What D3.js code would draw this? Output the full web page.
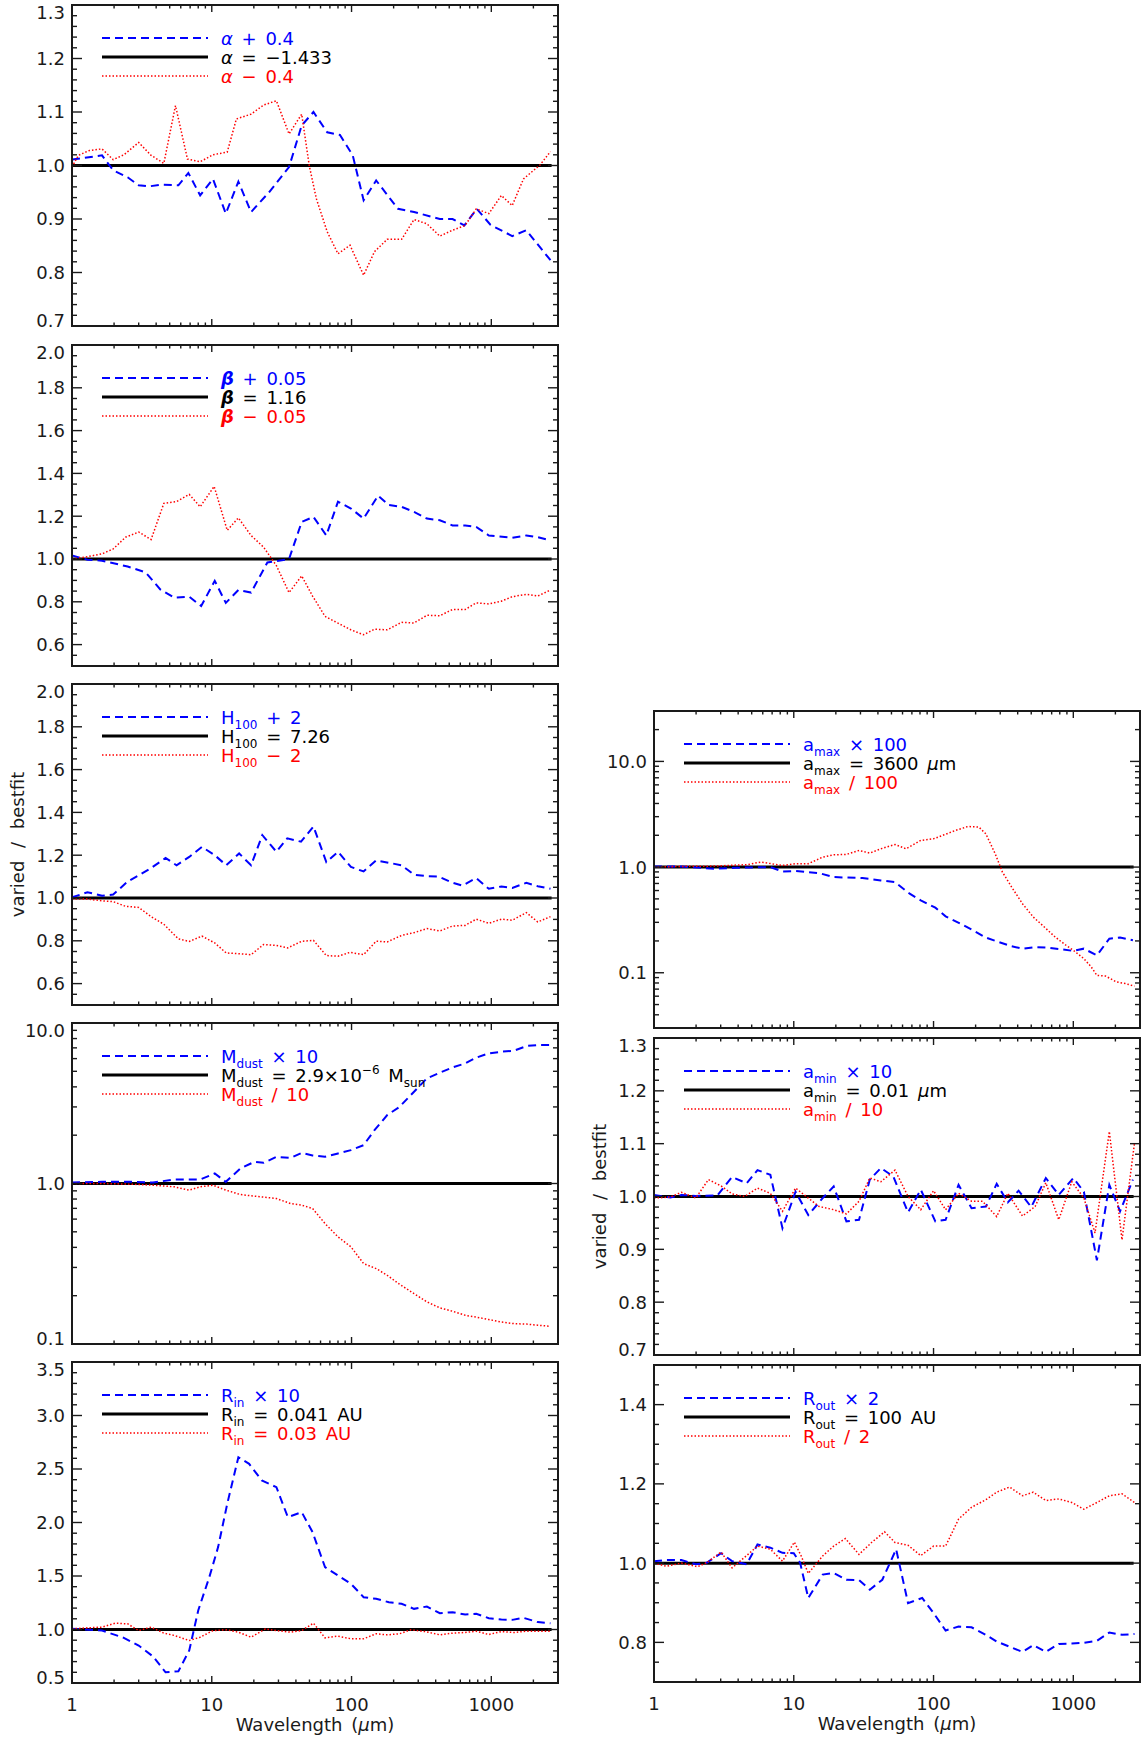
<!DOCTYPE html>
<html><head><meta charset="utf-8">
<script src="https://cdn.jsdelivr.net/npm/d3@7"></script>
<style>
body{margin:0;background:#fff}
text{font-family:"DejaVu Sans",sans-serif;white-space:pre;word-spacing:3px}
</style>
</head><body>
<svg id="chart" width="1142" height="1740"></svg>
<script>
// ---------------- DATA ----------------
const xTickValues = [1, 10, 100, 1000];
const xTickLabels = ["1", "10", "100", "1000"];
const xTitle = "Wavelength (μm)";
const yTitle = "varied / bestfit";
const bestfit = [[1, 1], [2700, 1]];

// panel alpha
const alphaTicks = [0.7, 0.8, 0.9, 1.0, 1.1, 1.2, 1.3];
const alphaPlus = [[1,1.011],[1.64,1.019],[1.97,0.991],[2.5,0.978],[3.0,0.963],[3.57,0.961],[4.28,0.964],[5.77,0.963],[6.8,0.986],[8.26,0.944],[10.2,0.975],[12.6,0.91],[15.5,0.97],[19.1,0.913],[25.7,0.95],[35.7,0.997],[44,1.075],[53.4,1.10],[67,1.062],[82.6,1.057],[102,1.019],[122,0.935],[150,0.972],[215,0.919],[280,0.913],[428,0.90],[528,0.90],[642,0.888],[787,0.919],[988,0.889],[1413,0.868],[1780,0.879],[2650,0.823]];
const alphaMinus = [[1,0.997],[1.11,1.019],[1.33,1.028],[1.64,1.031],[1.97,1.011],[2.35,1.02],[3.0,1.043],[3.68,1.019],[4.54,1.004],[5.5,1.112],[6.7,1.012],[8.26,1.007],[10.2,1.02],[12.9,1.025],[15,1.087],[19.1,1.096],[23.5,1.113],[29,1.121],[35.7,1.059],[44,1.096],[49.8,1.0],[56,0.938],[67,0.876],[80,0.835],[97.5,0.851],[122,0.795],[146,0.839],[180,0.862],[228,0.862],[280,0.899],[346,0.891],[428,0.868],[528,0.879],[650,0.888],[780,0.919],[960,0.91],[1180,0.944],[1410,0.925],[1700,0.975],[2230,1.001],[2650,1.026]];
const alphaLegend = [
  [{t:"α",i:1},{t:" + 0.4"}],
  [{t:"α",i:1},{t:" = −1.433"}],
  [{t:"α",i:1},{t:" − 0.4"}]
];

// panel beta
const betaTicks = [0.6, 0.8, 1.0, 1.2, 1.4, 1.6, 1.8, 2.0];
const betaPlus = [[1,1.016],[1.29,0.997],[1.64,0.992],[2.5,0.965],[3.37,0.937],[4.28,0.858],[5.4,0.819],[6.9,0.824],[8.4,0.78],[10.5,0.898],[12.6,0.795],[15.5,0.855],[19.1,0.843],[25,0.984],[28.5,0.989],[35.7,1.0],[44,1.173],[53.4,1.197],[66,1.11],[80,1.268],[99,1.236],[122,1.189],[155,1.296],[185,1.252],[228,1.244],[280,1.22],[346,1.189],[428,1.181],[528,1.157],[650,1.157],[780,1.15],[960,1.11],[1413,1.099],[1780,1.11],[2150,1.102],[2650,1.087]];
const betaMinus = [[1,1.0],[1.29,1.011],[1.64,1.024],[1.97,1.047],[2.42,1.102],[3.0,1.126],[3.68,1.091],[4.54,1.26],[5.6,1.268],[6.9,1.302],[8.26,1.244],[10.4,1.339],[12.9,1.134],[15.5,1.192],[19.1,1.11],[23.5,1.055],[29,0.969],[35.7,0.843],[44,0.921],[52.6,0.827],[64.6,0.732],[80,0.7],[99,0.669],[122,0.646],[146,0.672],[180,0.669],[228,0.704],[280,0.701],[346,0.737],[428,0.735],[528,0.764],[650,0.764],[780,0.795],[960,0.79],[1180,0.803],[1413,0.824],[1780,0.835],[2150,0.827],[2650,0.855]];
const betaLegend = [
  [{t:"β",i:1,b:1},{t:" + 0.05"}],
  [{t:"β",i:1,b:1},{t:" = 1.16"}],
  [{t:"β",i:1,b:1},{t:" − 0.05"}]
];

// panel H100
const hTicks = [0.6, 0.8, 1.0, 1.2, 1.4, 1.6, 1.8, 2.0];
const hPlus = [[1,1.003],[1.29,1.027],[1.64,1.011],[1.97,1.016],[2.5,1.077],[3.0,1.106],[3.68,1.14],[4.67,1.187],[5.6,1.153],[6.9,1.192],[8.5,1.239],[10.5,1.2],[12.7,1.153],[15.7,1.208],[19.1,1.153],[23,1.294],[29,1.216],[34.7,1.279],[43.5,1.263],[53.4,1.334],[66,1.168],[80,1.216],[99,1.145],[122,1.124],[150,1.176],[228,1.153],[280,1.109],[346,1.102],[420,1.10],[515,1.074],[620,1.058],[780,1.093],[960,1.043],[1180,1.054],[1413,1.047],[1780,1.071],[2150,1.055],[2650,1.043]];
const hMinus = [[1,0.995],[1.29,0.995],[1.64,0.987],[1.97,0.983],[2.42,0.961],[3.0,0.956],[3.68,0.913],[4.54,0.877],[5.77,0.809],[6.9,0.797],[8.5,0.822],[10.5,0.79],[12.7,0.743],[15.5,0.74],[19.1,0.735],[23.5,0.783],[29,0.778],[35,0.767],[44,0.798],[53.4,0.802],[66,0.731],[80,0.728],[97.5,0.746],[122,0.735],[150,0.798],[180,0.795],[228,0.825],[280,0.838],[346,0.857],[428,0.846],[528,0.869],[650,0.872],[780,0.901],[960,0.882],[1180,0.901],[1413,0.896],[1780,0.932],[2150,0.888],[2650,0.913]];
const hLegend = [
  [{t:"H"},{t:"100",s:"sub"},{t:" + 2"}],
  [{t:"H"},{t:"100",s:"sub"},{t:" = 7.26"}],
  [{t:"H"},{t:"100",s:"sub"},{t:" − 2"}]
];

// panel Mdust (log)
const mTicks = [0.1, 1.0, 10.0];
const mPlus = [[1,1.014],[1.64,1.024],[2.65,1.024],[3.8,1.014],[5.4,1.059],[8.26,1.059],[10.5,1.154],[12.6,1.024],[16,1.24],[20.2,1.365],[23.5,1.345],[29,1.466],[36.7,1.445],[44,1.553],[52.6,1.495],[64.6,1.466],[80,1.538],[99,1.614],[122,1.734],[146,2.151],[180,2.667],[220,3.0],[280,3.73],[346,4.52],[428,4.9],[528,5.29],[650,5.6],[780,6.08],[960,6.47],[1180,6.62],[1450,6.72],[1790,7.19],[2150,7.29],[2650,7.29]];
const mMinus = [[1,1.0],[1.64,1.0],[2.65,0.99],[3.8,0.976],[5.4,0.953],[6.9,0.909],[8.26,0.953],[10.2,0.976],[12.6,0.909],[16,0.854],[20.2,0.834],[29,0.806],[36.7,0.75],[44,0.733],[52.6,0.699],[64.6,0.563],[80,0.465],[99,0.403],[122,0.317],[150,0.295],[180,0.268],[220,0.236],[280,0.206],[346,0.183],[428,0.168],[528,0.16],[650,0.151],[780,0.147],[960,0.142],[1180,0.137],[1450,0.134],[1790,0.133],[2150,0.131],[2600,0.129]];
const mLegend = [
  [{t:"M"},{t:"dust",s:"sub"},{t:" × 10"}],
  [{t:"M"},{t:"dust",s:"sub"},{t:" = 2.9×10"},{t:"−6",s:"sup"},{t:" M"},{t:"sun",s:"sub"}],
  [{t:"M"},{t:"dust",s:"sub"},{t:" / 10"}]
];

// panel Rin
const rinTicks = [0.5, 1.0, 1.5, 2.0, 2.5, 3.0, 3.5];
const rinPlus = [[1,1.006],[1.64,0.99],[2.35,0.922],[3.0,0.85],[3.8,0.748],[4.67,0.60],[5.77,0.61],[6.9,0.804],[8.0,1.178],[9.6,1.489],[11.1,1.77],[12.9,2.174],[15.5,2.61],[18.5,2.548],[22.8,2.393],[29,2.33],[35,2.05],[44,2.097],[52.6,1.91],[64.6,1.583],[80,1.505],[99,1.427],[122,1.302],[150,1.287],[185,1.255],[228,1.24],[280,1.193],[346,1.215],[428,1.153],[528,1.162],[650,1.14],[780,1.146],[960,1.106],[1180,1.093],[1413,1.09],[1700,1.109],[2150,1.069],[2650,1.059]];
const rinMinus = [[1,1.006],[1.29,1.016],[1.64,1.022],[2.03,1.059],[2.5,1.053],[3.0,0.99],[3.68,1.022],[4.54,0.966],[5.4,0.944],[6.9,0.897],[8.26,0.928],[10.2,0.99],[12.9,0.997],[15.5,0.975],[19.1,0.928],[24.2,1.006],[29,0.99],[36.7,0.975],[44,0.99],[53.4,1.059],[64.6,0.922],[80,0.938],[99,0.913],[122,0.913],[150,0.96],[180,0.95],[220,0.96],[265,0.997],[335,0.981],[428,0.95],[528,0.966],[650,0.972],[780,0.984],[960,0.953],[1180,0.981],[1450,0.972],[1790,0.984],[2150,0.984],[2650,0.984]];
const rinLegend = [
  [{t:"R"},{t:"in",s:"sub"},{t:" × 10"}],
  [{t:"R"},{t:"in",s:"sub"},{t:" = 0.041 AU"}],
  [{t:"R"},{t:"in",s:"sub"},{t:" = 0.03 AU"}]
];

// panel amax (log)
const amaxTicks = [0.1, 1.0, 10.0];
const amaxPlus = [[1,1.015],[1.57,1.015],[2.68,0.964],[3.84,0.986],[6.8,1.0],[8.3,0.91],[10.3,0.917],[15.2,0.877],[19.3,0.804],[31,0.787],[42,0.748],[53,0.721],[67.5,0.56],[81,0.485],[103,0.413],[122,0.342],[155,0.292],[192,0.252],[237,0.215],[293,0.195],[362,0.178],[433,0.169],[533,0.175],[655,0.173],[810,0.167],[1000,0.161],[1190,0.169],[1475,0.146],[1810,0.21],[2160,0.215],[2670,0.203]];
const amaxMinus = [[1,1.0],[1.57,1.015],[2.68,1.022],[3.84,1.044],[4.6,1.052],[5.8,1.115],[8.3,1.037],[10.3,1.075],[12.7,1.075],[16.1,1.243],[19.3,1.307],[23.8,1.317],[29.3,1.437],[35,1.356],[42,1.49],[53,1.637],[63.5,1.49],[81,1.786],[100,1.852],[119,2.02],[143,2.22],[176,2.42],[211,2.39],[237,2.06],[276,1.337],[311,0.897],[362,0.647],[433,0.45],[517,0.337],[620,0.271],[741,0.218],[887,0.182],[1000,0.163],[1190,0.136],[1340,0.114],[1475,0.0944],[1700,0.0931],[2030,0.082],[2350,0.079],[2740,0.0747]];
const amaxLegend = [
  [{t:"a"},{t:"max",s:"sub"},{t:" × 100"}],
  [{t:"a"},{t:"max",s:"sub"},{t:" = 3600 "},{t:"μ",i:1},{t:"m"}],
  [{t:"a"},{t:"max",s:"sub"},{t:" / 100"}]
];

// panel amin
const aminTicks = [0.7, 0.8, 0.9, 1.0, 1.1, 1.2, 1.3];
const aminPlus = [[1,1.003],[1.31,0.998],[1.57,1.003],[1.99,1.001],[2.84,1.002],[3.62,1.037],[4.6,1.025],[5.5,1.05],[6.8,1.041],[8.3,0.94],[10.3,1.009],[12.7,0.965],[16.1,0.997],[19.3,1.019],[23.8,0.953],[29.3,0.956],[35,1.032],[42,1.054],[51.5,1.038],[65.7,0.97],[81,1.013],[103,0.953],[122,0.956],[151,1.022],[187,0.978],[237,0.981],[283,1.024],[340,0.989],[406,1.011],[500,0.98],[636,1.035],[787,1.003],[1000,1.035],[1190,1.009],[1475,0.879],[1810,1.022],[2160,0.972],[2670,1.032]];
const aminMinus = [[1,0.997],[1.31,0.999],[1.57,1.008],[1.99,0.997],[2.45,1.032],[3.02,1.02],[3.62,1.005],[4.46,1.0],[5.5,1.016],[6.8,1.006],[8.3,0.972],[10.3,1.016],[12.7,0.997],[15.2,0.981],[19.3,0.975],[23.8,0.967],[29.3,0.991],[35,1.035],[42,1.028],[53,1.05],[65.7,1.0],[81,0.975],[100,1.011],[122,0.975],[151,1.006],[187,0.991],[224,0.991],[283,0.962],[340,1.006],[433,0.963],[533,0.981],[636,1.026],[787,0.956],[975,1.028],[1190,0.997],[1430,0.931],[1810,1.123],[2230,0.918],[2740,1.101]];
const aminLegend = [
  [{t:"a"},{t:"min",s:"sub"},{t:" × 10"}],
  [{t:"a"},{t:"min",s:"sub"},{t:" = 0.01 "},{t:"μ",i:1},{t:"m"}],
  [{t:"a"},{t:"min",s:"sub"},{t:" / 10"}]
];

// panel Rout
const routTicks = [0.8, 1.0, 1.2, 1.4];
const routPlus = [[1,1.005],[1.23,1.008],[1.57,1.008],[1.99,0.997],[2.38,1.001],[3.02,1.025],[3.62,1.005],[4.6,0.997],[5.5,1.047],[6.8,1.039],[8.3,1.026],[10.0,1.025],[11.1,1.001],[12.7,0.912],[16.1,0.971],[19.3,0.975],[23.8,0.958],[29.3,0.957],[35,0.933],[43,0.958],[54,1.035],[65.7,0.899],[83,0.912],[100,0.874],[122,0.83],[151,0.84],[187,0.838],[237,0.819],[283,0.802],[350,0.789],[433,0.776],[517,0.793],[636,0.776],[787,0.796],[975,0.797],[1190,0.799],[1475,0.804],[1810,0.825],[2230,0.819],[2740,0.821]];
const routMinus = [[1,1.0],[1.23,0.992],[1.57,1.0],[2.05,0.991],[2.38,1.001],[3.02,1.028],[3.62,0.988],[4.6,1.019],[5.5,1.043],[6.8,1.035],[8.3,1.005],[10.1,1.053],[11.3,1.018],[12.7,0.974],[16.1,1.018],[19.3,1.043],[23.4,1.062],[29.3,1.022],[36,1.052],[44.6,1.079],[53,1.052],[65.7,1.045],[81,1.019],[100,1.043],[122,1.043],[151,1.111],[187,1.141],[237,1.16],[283,1.179],[350,1.192],[433,1.17],[517,1.179],[636,1.158],[787,1.162],[975,1.153],[1190,1.136],[1475,1.153],[1810,1.17],[2230,1.175],[2740,1.153]];
const routLegend = [
  [{t:"R"},{t:"out",s:"sub"},{t:" × 2"}],
  [{t:"R"},{t:"out",s:"sub"},{t:" = 100 AU"}],
  [{t:"R"},{t:"out",s:"sub"},{t:" / 2"}]
];

// ---------------- LAYOUT ----------------
const BLUE = "#0000ff", RED = "#ff0000", INK = "#1a1a1a";
const colX = [72, 654], PW = 486;
const leftTops = [5, 345, 684, 1023, 1362], LH = 321;
const rightTops = [711, 1038, 1365], RH = 317;

const panels = [
  {x0:colX[0], y0:leftTops[0], h:LH, log:false, dom:[0.7,1.3], minor:0.02, ticks:alphaTicks, plus:alphaPlus, minus:alphaMinus, legend:alphaLegend},
  {x0:colX[0], y0:leftTops[1], h:LH, log:false, dom:[0.5,2.0], minor:0.05, ticks:betaTicks, plus:betaPlus, minus:betaMinus, legend:betaLegend},
  {x0:colX[0], y0:leftTops[2], h:LH, log:false, dom:[0.5,2.0], minor:0.05, ticks:hTicks, plus:hPlus, minus:hMinus, legend:hLegend, ytitle:true},
  {x0:colX[0], y0:leftTops[3], h:LH, log:true, dom:[0.1,10], ticks:mTicks, plus:mPlus, minus:mMinus, legend:mLegend},
  {x0:colX[0], y0:leftTops[4], h:LH, log:false, dom:[0.5,3.5], minor:0.1, ticks:rinTicks, plus:rinPlus, minus:rinMinus, legend:rinLegend, xlab:true},
  {x0:colX[1], y0:rightTops[0], h:RH, log:true, dom:[0.03,30], ticks:amaxTicks, plus:amaxPlus, minus:amaxMinus, legend:amaxLegend},
  {x0:colX[1], y0:rightTops[1], h:RH, log:false, dom:[0.7,1.3], minor:0.02, ticks:aminTicks, plus:aminPlus, minus:aminMinus, legend:aminLegend, ytitle:true},
  {x0:colX[1], y0:rightTops[2], h:RH, log:false, dom:[0.7,1.5], minor:0.05, ticks:routTicks, plus:routPlus, minus:routMinus, legend:routLegend, xlab:true}
];

const svg = d3.select("#chart");
svg.append("rect").attr("width",1142).attr("height",1740).attr("fill","#fff");
const defs = svg.append("defs");

function richText(g, x, y, parts, color) {
  const t = g.append("text").attr("x", x).attr("y", y).attr("fill", color)
    .attr("font-size", 18);
  let off = 0;
  parts.forEach(p => {
    let target = 0, size = 18;
    if (p.s === "sub") { target = 5; size = 12; }
    if (p.s === "sup") { target = -8; size = 12; }
    const ts = t.append("tspan").text(p.t).attr("font-size", size)
      .attr("dy", target - off);
    if (p.i) ts.attr("font-style", "italic");
    if (p.b) ts.attr("font-weight", "bold");
    off = target;
  });
  return t;
}

panels.forEach((p, idx) => {
  const x = d3.scaleLog().domain([1, 3000]).range([p.x0, p.x0 + PW]);
  const y = (p.log ? d3.scaleLog() : d3.scaleLinear()).domain(p.dom).range([p.y0 + p.h, p.y0]);
  const g = svg.append("g");
  const cid = "clip" + idx;
  defs.append("clipPath").attr("id", cid).append("rect")
    .attr("x", p.x0).attr("y", p.y0).attr("width", PW).attr("height", p.h);

  const line = d3.line().x(d => x(d[0])).y(d => y(d[1]));
  const dg = g.append("g").attr("clip-path", `url(#${cid})`);
  dg.append("path").attr("d", line(bestfit)).attr("fill","none").attr("stroke","#000").attr("stroke-width",3);
  dg.append("path").attr("d", line(p.plus)).attr("fill","none").attr("stroke",BLUE).attr("stroke-width",2).attr("stroke-dasharray","8,5");
  dg.append("path").attr("d", line(p.minus)).attr("fill","none").attr("stroke",RED).attr("stroke-width",1.5).attr("stroke-dasharray","1.5,2");

  // ticks
  const tg = g.append("g").attr("stroke", INK).attr("stroke-width", 1.4);
  const xMinor = [];
  for (let d = 0; d <= 3; d++) for (let k = 1; k <= 9; k++) { const v = k * Math.pow(10, d); if (v <= 3000) xMinor.push([v, k === 1]); }
  const bot = p.y0 + p.h, top = p.y0;
  xMinor.forEach(([v, maj]) => {
    const L = maj ? 7 : 3.5, xx = x(v);
    tg.append("line").attr("x1", xx).attr("x2", xx).attr("y1", bot).attr("y2", bot - L);
    tg.append("line").attr("x1", xx).attr("x2", xx).attr("y1", top).attr("y2", top + L);
  });
  let yMinor = [];
  if (p.log) {
    for (let d = -2; d <= 1; d++) for (let k = 1; k <= 9; k++) {
      const v = k * Math.pow(10, d);
      if (v >= p.dom[0] * 0.999 && v <= p.dom[1] * 1.001) yMinor.push([v, k === 1]);
    }
  } else {
    const n = Math.round((p.dom[1] - p.dom[0]) / p.minor);
    for (let i = 0; i <= n; i++) {
      const v = p.dom[0] + i * p.minor;
      const isMaj = p.ticks.some(t => Math.abs(t - v) < 1e-6);
      yMinor.push([v, isMaj]);
    }
  }
  const right = p.x0 + PW;
  yMinor.forEach(([v, maj]) => {
    const L = maj ? 10 : 5, yy = y(v);
    tg.append("line").attr("x1", p.x0).attr("x2", p.x0 + L).attr("y1", yy).attr("y2", yy);
    tg.append("line").attr("x1", right).attr("x2", right - L).attr("y1", yy).attr("y2", yy);
  });

  // frame
  g.append("rect").attr("x", p.x0).attr("y", p.y0).attr("width", PW).attr("height", p.h)
    .attr("fill", "none").attr("stroke", INK).attr("stroke-width", 2);

  // y tick labels
  p.ticks.forEach(v => {
    let yy = y(v);
    yy = Math.max(top + 7.5, Math.min(bot - 5.5, yy));
    g.append("text").attr("x", p.x0 - 7).attr("y", yy).attr("dy", "0.36em")
      .attr("text-anchor", "end").attr("font-size", 18).attr("fill", INK)
      .text(v.toFixed(1));
  });

  // x tick labels + title
  if (p.xlab) {
    xTickValues.forEach((v, i) => {
      g.append("text").attr("x", x(v)).attr("y", bot + 28).attr("text-anchor", "middle")
        .attr("font-size", 18).attr("fill", INK).text(xTickLabels[i]);
    });
    const tt = g.append("text").attr("x", p.x0 + PW / 2).attr("y", bot + 48).attr("text-anchor", "middle")
      .attr("font-size", 18).attr("fill", INK);
    tt.append("tspan").text("Wavelength (");
    tt.append("tspan").text("μ").attr("font-style", "italic");
    tt.append("tspan").text("m)");
  }
  if (p.ytitle) {
    const cx = p.x0 - 54, cy = p.y0 + p.h / 2;
    g.append("text").attr("transform", `translate(${cx},${cy}) rotate(-90)`)
      .attr("text-anchor", "middle").attr("dy", "0.36em").attr("font-size", 18)
      .attr("fill", INK).style("word-spacing", "7px").text(yTitle);
  }

  // legend
  const cols = [BLUE, "#000", RED];
  const styles = [
    {w:2, dash:"8,5"}, {w:3, dash:null}, {w:1.5, dash:"1.5,2"}
  ];
  [33, 52, 71].forEach((dy, i) => {
    const ly = p.y0 + dy;
    const ln = g.append("line").attr("x1", p.x0 + 30).attr("x2", p.x0 + 136)
      .attr("y1", ly).attr("y2", ly).attr("stroke", cols[i]).attr("stroke-width", styles[i].w);
    if (styles[i].dash) ln.attr("stroke-dasharray", styles[i].dash);
    richText(g, p.x0 + 149, ly + 6.5, p.legend[i], cols[i]);
  });
});
</script>
</body></html>
